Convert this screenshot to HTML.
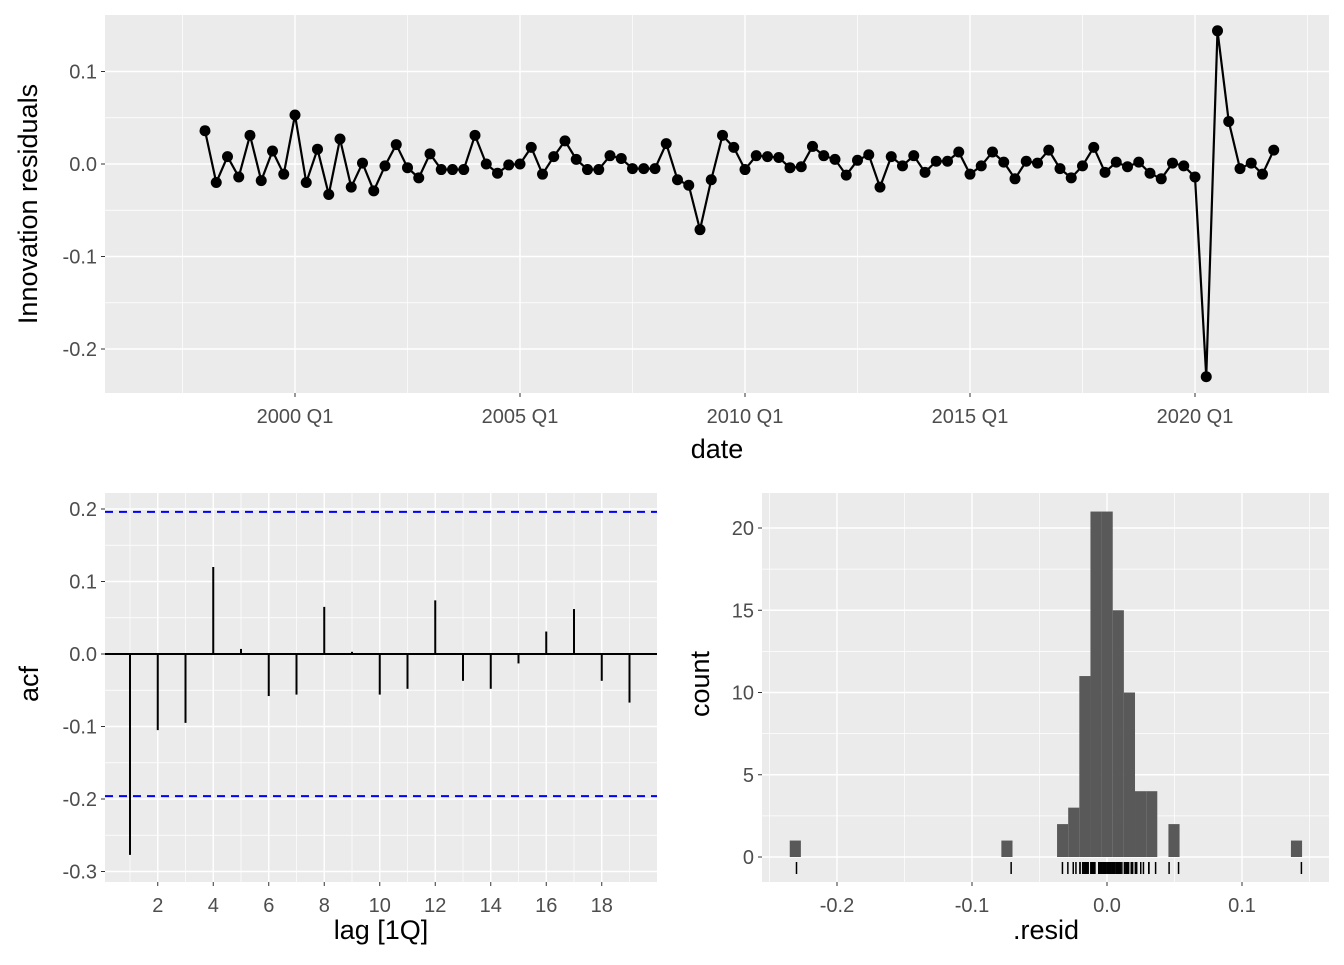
<!DOCTYPE html>
<html><head><meta charset="utf-8"><style>
body{margin:0;background:#fff;font-family:"Liberation Sans",sans-serif}
svg text{font-family:"Liberation Sans",sans-serif}
</style></head><body>
<svg id="s" width="1344" height="960" xmlns="http://www.w3.org/2000/svg"></svg>
<script>
const resid=[0.036,-0.020,0.008,-0.014,0.031,-0.018,0.014,-0.011,0.053,-0.020,0.016,-0.033,0.027,-0.025,0.001,-0.029,-0.002,0.021,-0.004,-0.015,0.011,-0.006,-0.006,-0.006,0.031,0.000,-0.010,-0.001,0.000,0.018,-0.011,0.008,0.025,0.005,-0.006,-0.006,0.009,0.006,-0.005,-0.005,-0.005,0.022,-0.017,-0.023,-0.071,-0.017,0.031,0.018,-0.006,0.009,0.008,0.007,-0.004,-0.003,0.019,0.009,0.005,-0.012,0.004,0.010,-0.025,0.008,-0.002,0.009,-0.009,0.003,0.003,0.013,-0.011,-0.002,0.013,0.002,-0.016,0.003,0.001,0.015,-0.005,-0.015,-0.002,0.018,-0.009,0.002,-0.003,0.002,-0.010,-0.016,0.001,-0.002,-0.014,-0.230,0.144,0.046,-0.005,0.001,-0.011,0.015];
const startYear=1998;
const acfLags=[1,2,3,4,5,6,7,8,9,10,11,12,13,14,15,16,17,18,19];
const acfVals=[-0.277,-0.105,-0.095,0.120,0.007,-0.058,-0.056,0.065,0.003,-0.056,-0.048,0.074,-0.037,-0.048,-0.013,0.031,0.062,-0.037,-0.067];
const ciBound=0.196;
const binIndex=[-24,-5,0,1,2,3,4,5,6,7,8,10,21];
const binCounts=[1,1,2,3,11,21,21,15,10,4,4,2,1];
const binOrigin=-0.037, binWidth=0.00825;
const topYTicks=[0.1,0.0,-0.1,-0.2], topYLabels=["0.1","0.0","-0.1","-0.2"];
const topXTicks=[2000,2005,2010,2015,2020], topXLabels=["2000 Q1","2005 Q1","2010 Q1","2015 Q1","2020 Q1"];
const acfYTicks=[0.2,0.1,0,-0.1,-0.2,-0.3], acfYLabels=["0.2","0.1","0.0","-0.1","-0.2","-0.3"];
const acfXTicks=[2,4,6,8,10,12,14,16,18];
const hXTicks=[-0.2,-0.1,0,0.1], hXLabels=["-0.2","-0.1","0.0","0.1"];
const hYTicks=[0,5,10,15,20];

const S=document.getElementById('s');const NS="http://www.w3.org/2000/svg";
function el(t,a,p){const e=document.createElementNS(NS,t);for(const k in a)e.setAttribute(k,a[k]);(p||S).appendChild(e);return e;}
function txt(x,y,s,size,anchor,fill,rot){const e=el('text',{x:x,y:y,'font-size':size,'text-anchor':anchor,fill:fill});if(rot)e.setAttribute('transform','rotate(-90 '+x+' '+y+')');e.textContent=s;return e;}

function panel(name,x0,y0,x1,y1,sx,sy,xMaj,xMin,yMaj,yMin){
 const g=el('g',{});
 
 
 el('rect',{x:x0,y:y0,width:x1-x0,height:y1-y0,fill:'#ebebeb'},g);
 xMin.forEach(v=>el('line',{x1:sx(v),x2:sx(v),y1:y0,y2:y1,stroke:'#fff','stroke-width':0.7},g));
 yMin.forEach(v=>el('line',{y1:sy(v),y2:sy(v),x1:x0,x2:x1,stroke:'#fff','stroke-width':0.7},g));
 xMaj.forEach(v=>el('line',{x1:sx(v),x2:sx(v),y1:y0,y2:y1,stroke:'#fff','stroke-width':1.4},g));
 yMaj.forEach(v=>el('line',{y1:sy(v),y2:sy(v),x1:x0,x2:x1,stroke:'#fff','stroke-width':1.4},g));
 return g;
}
function yTickLabels(g,x0,sy,ticks,labels){ticks.forEach((v,i)=>{el('line',{x1:x0-4,x2:x0,y1:sy(v),y2:sy(v),stroke:'#333','stroke-width':1},g);const t=txt(x0-8,sy(v)+7,labels[i],20,'end','#4d4d4d');});}
function xTickLabels(g,y1,sx,ticks,labels){ticks.forEach((v,i)=>{el('line',{x1:sx(v),x2:sx(v),y1:y1,y2:y1+4,stroke:'#333','stroke-width':1},g);const t=txt(sx(v),y1+30,labels[i],20,'middle','#4d4d4d');});}

// TOP
{const x0=105,x1=1329,y0=15,y1=393;
 const sx=t=>295+(t-2000)*45; const sy=v=>164-v*925;
 const g=panel('residual-time-plot',x0,y0,x1,y1,sx,sy,topXTicks,[1997.5,2002.5,2007.5,2012.5,2017.5,2022.5],topYTicks,[0.05,-0.05,-0.15]);
 const pts=resid.map((v,i)=>[sx(startYear+i/4),sy(v)]);
 const l=el('polyline',{points:pts.map(p=>p.join(',')).join(' '),fill:'none',stroke:'#000','stroke-width':2.2},g);
 
 pts.forEach(p=>{const c=el('circle',{cx:p[0],cy:p[1],r:5.5,fill:'#000'},g);});
 yTickLabels(g,x0,sy,topYTicks,topYLabels);xTickLabels(g,y1,sx,topXTicks,topXLabels);
 const a=txt(717,458,'date',27,'middle','#000');
 const b=txt(37,204,'Innovation residuals',27,'middle','#000',true);
}
// ACF
{const x0=105,x1=657,y0=493,y1=882;
 const sx=l=>130+(l-1)*27.75; const sy=v=>654-v*725;
 const g=panel('acf-plot',x0,y0,x1,y1,sx,sy,acfXTicks,[1,3,5,7,9,11,13,15,17,19],acfYTicks,[0.15,0.05,-0.05,-0.15,-0.25]);
 el('line',{x1:x0,x2:x1,y1:sy(0),y2:sy(0),stroke:'#000','stroke-width':2},g);
 acfLags.forEach((l,i)=>{const s=el('line',{x1:sx(l),x2:sx(l),y1:sy(0),y2:sy(acfVals[i]),stroke:'#000','stroke-width':2},g);});
 [ciBound,-ciBound].forEach(v=>{const d=el('line',{x1:x0,x2:x1,y1:sy(v),y2:sy(v),stroke:'#0000ff','stroke-width':2,'stroke-dasharray':'8,6'},g);});
 yTickLabels(g,x0,sy,acfYTicks,acfYLabels);xTickLabels(g,y1,sx,acfXTicks,acfXTicks.map(String));
 const a=txt(381,939,'lag [1Q]',27,'middle','#000');
 const b=txt(38,684,'acf',27,'middle','#000',true);
}
// HIST
{const x0=762,x1=1329,y0=493,y1=882;
 const sx=v=>1107+v*1350; const sy=c=>857-c*16.45;
 const g=panel('residual-histogram',x0,y0,x1,y1,sx,sy,hXTicks,[-0.25,-0.15,-0.05,0.05,0.15],hYTicks,[2.5,7.5,12.5,17.5]);
 binIndex.forEach((k,i)=>{const a=binOrigin+k*binWidth;const r=el('rect',{x:sx(a),y:sy(binCounts[i]),width:sx(a+binWidth)-sx(a),height:sy(0)-sy(binCounts[i]),fill:'#595959'},g);});
 resid.forEach(v=>{const r=el('line',{x1:sx(v),x2:sx(v),y1:862,y2:874,stroke:'#000','stroke-width':1.5},g);});
 yTickLabels(g,x0,sy,hYTicks,hYTicks.map(String));xTickLabels(g,y1,sx,hXTicks,hXLabels);
 const a=txt(1046,939,'.resid',27,'middle','#000');
 const b=txt(709,684,'count',27,'middle','#000',true);
}
</script>
</body></html>
